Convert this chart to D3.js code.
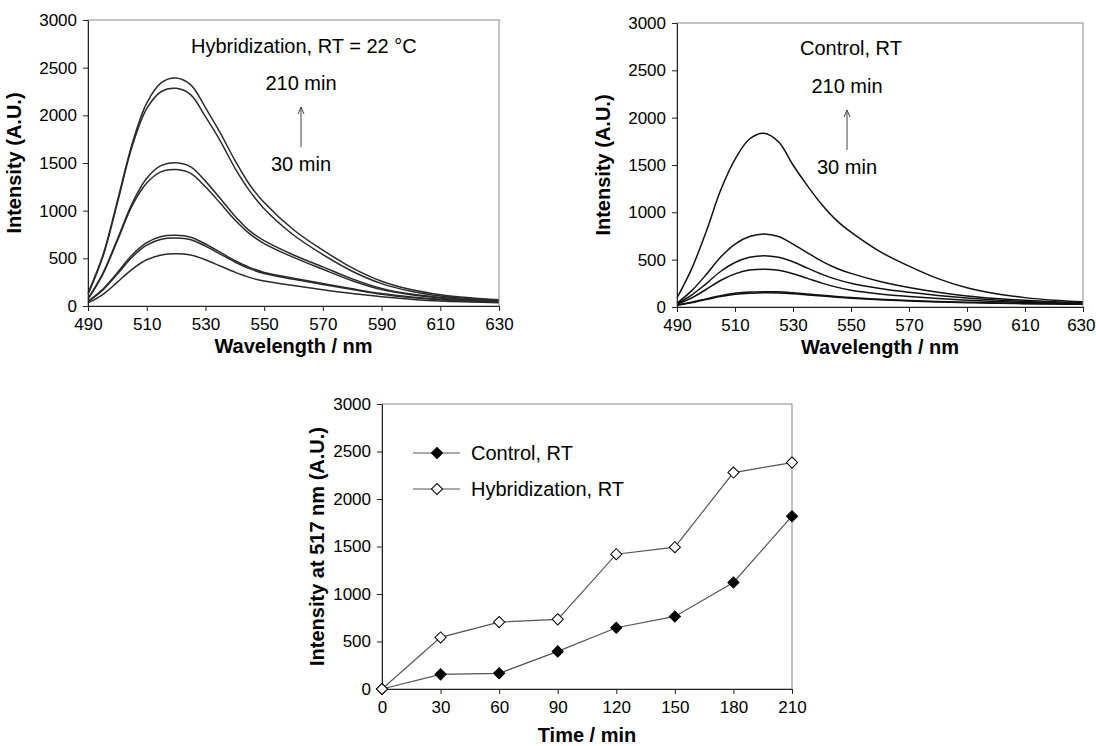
<!DOCTYPE html>
<html>
<head>
<meta charset="utf-8">
<script src="https://cdn.jsdelivr.net/npm/d3@7"></script>
<style>
  body { margin: 0; background: #fff; }
  svg text { font-family: Arial, "Liberation Sans", Helvetica, sans-serif; fill: #000; }
  .tick text { font-size: 17px; }
  .tick line, .domain { stroke: #222; }
</style>
</head>
<body>
<svg id="fig" width="1096" height="746"></svg>
<script>
// wavelengths (nm) of the emission spectra
var wavelengths = [490, 495, 500, 505, 510, 515, 520, 525, 530, 535, 540, 545, 550, 560, 570, 580, 590, 600, 610, 620, 630];

// hybridization spectra, 30 .. 210 min
var hyb30 = [32, 120, 250, 385, 485, 536, 548, 535, 485, 420, 355, 300, 262, 215, 170, 130, 98, 72, 52, 42, 35];
var hyb60 = [45, 165, 335, 512, 638, 700, 712, 695, 628, 545, 462, 392, 340, 280, 225, 172, 122, 88, 65, 52, 42];
var hyb90 = [50, 175, 350, 535, 665, 730, 742, 722, 650, 565, 478, 405, 352, 292, 235, 180, 130, 95, 70, 55, 45];
var hyb120 = [72, 330, 685, 1050, 1290, 1410, 1432, 1392, 1250, 1080, 905, 760, 655, 510, 385, 265, 172, 118, 85, 64, 52];
var hyb150 = [78, 340, 700, 1075, 1340, 1475, 1502, 1460, 1310, 1130, 945, 790, 685, 535, 410, 285, 185, 125, 90, 68, 55];
var hyb180 = [122, 510, 1080, 1670, 2070, 2250, 2283, 2215, 1986, 1735, 1450, 1210, 1020, 745, 540, 365, 235, 155, 105, 78, 60];
var hyb210 = [136, 526, 1100, 1698, 2129, 2344, 2392, 2320, 2081, 1818, 1530, 1275, 1085, 800, 586, 400, 260, 172, 118, 86, 65];

// control spectra
var ctrlA = [18, 45, 78, 110, 134, 146, 150, 148, 140, 128, 116, 104, 93, 76, 63, 54, 46, 40, 35, 31, 28];
var ctrlB = [20, 50, 85, 120, 145, 158, 162, 160, 150, 138, 125, 112, 100, 82, 68, 58, 50, 43, 38, 34, 30];
var ctrlC = [30, 95, 185, 280, 350, 390, 400, 388, 352, 302, 252, 210, 178, 138, 112, 90, 72, 58, 47, 40, 34];
var ctrlD = [35, 125, 245, 375, 470, 525, 542, 525, 478, 410, 345, 292, 250, 195, 155, 122, 95, 74, 58, 46, 38];
var ctrlE = [40, 170, 340, 525, 665, 745, 772, 745, 665, 572, 482, 410, 355, 270, 205, 155, 117, 90, 70, 55, 45];
var ctrlF = [95, 400, 790, 1230, 1560, 1775, 1836, 1745, 1500, 1280, 1080, 915, 790, 585, 432, 300, 203, 140, 99, 72, 55];

// intensity at 517 nm vs time
var times = [0, 30, 60, 90, 120, 150, 180, 210];
var controlRT = [0, 154, 165, 396, 645, 764, 1122, 1819];
var hybRT = [0, 543, 704, 733, 1419, 1493, 2278, 2383];

var intensityTicks = [0, 500, 1000, 1500, 2000, 2500, 3000];
var wavelengthTicks = [490, 510, 530, 550, 570, 590, 610, 630];

var svg = d3.select("#fig");

//FRAME + AXES//
var drawFrame = function (box, xScale, yScale, xTicks, xTitle, yTitle, yTitlePos, xTitleY) {
  var g = svg.append("g");
  g.append("rect")
    .attr("x", box.left).attr("y", box.top)
    .attr("width", box.right - box.left).attr("height", box.bottom - box.top)
    .attr("fill", "none").attr("stroke", "#888").attr("stroke-width", 1);

  var xg = g.append("g")
    .attr("transform", "translate(0," + box.bottom + ")")
    .call(d3.axisBottom(xScale).tickValues(xTicks).tickFormat(d3.format("d"))
      .tickSize(5).tickSizeOuter(0).tickPadding(7));
  g.append("g")
    .attr("transform", "translate(" + box.left + ",0)")
    .call(d3.axisLeft(yScale).tickValues(intensityTicks).tickFormat(d3.format("d"))
      .tickSize(5).tickSizeOuter(0).tickPadding(6));

  // keep the last x label inside the page
  xg.selectAll(".tick text").each(function () {
    var bb = this.getBBox();
    var sx = xScale(d3.select(this.parentNode).datum());
    if (sx + bb.x + bb.width > 1095) {
      d3.select(this).attr("text-anchor", "end").attr("x", 1095 - sx);
    }
  });

  g.append("text")
    .text(xTitle)
    .attr("text-anchor", "middle")
    .attr("font-weight", "bold")
    .attr("font-size", 20)
    .attr("x", (box.left + box.right) / 2)
    .attr("y", xTitleY);

  g.append("g")
    .attr("transform", "translate(" + yTitlePos[0] + "," + yTitlePos[1] + ")")
    .append("text")
    .text(yTitle)
    .attr("text-anchor", "middle")
    .attr("font-weight", "bold")
    .attr("font-size", 20)
    .attr("transform", "rotate(-90)");
};

//SPECTRA PANEL//
var drawSpectra = function (box, spectra, label, labelPos, arrowX, stroke) {
  var x = d3.scaleLinear().domain([490, 630]).range([box.left, box.right]);
  var y = d3.scaleLinear().domain([0, 3000]).range([box.bottom, box.top]);

  var line = d3.line()
    .x(function (d, i) { return x(wavelengths[i]); })
    .y(function (d) { return y(d); })
    .curve(d3.curveCatmullRom.alpha(0.5));

  svg.append("g")
    .selectAll("path")
    .data(spectra)
    .enter()
    .append("path")
    .attr("d", line)
    .attr("fill", "none")
    .attr("stroke", stroke)
    .attr("stroke-width", 1.5);

  drawFrame(box, x, y, wavelengthTicks, "Wavelength / nm", "Intensity (A.U.)",
    [box.left - 67, (box.top + box.bottom) / 2], box.bottom + 47);

  var notes = svg.append("g").attr("font-size", 20);
  notes.append("text").text(label).attr("x", labelPos[0]).attr("y", labelPos[1]);
  notes.append("text").text("210 min").attr("x", arrowX).attr("y", box.top + 70).attr("text-anchor", "middle");
  notes.append("text").text("30 min").attr("x", arrowX).attr("y", box.top + 151).attr("text-anchor", "middle");

  // little arrow 30 -> 210 min
  var a = svg.append("g").attr("stroke", "#444").attr("fill", "none").attr("stroke-width", 1);
  a.append("line").attr("x1", arrowX).attr("x2", arrowX).attr("y1", box.top + 127).attr("y2", box.top + 87);
  a.append("path").attr("d", "M" + (arrowX - 3) + "," + (box.top + 94) + " L" + arrowX + "," + (box.top + 87) + " L" + (arrowX + 3) + "," + (box.top + 94));
};

drawSpectra({ left: 88, right: 499, top: 20, bottom: 306 },
  [hyb30, hyb60, hyb90, hyb120, hyb150, hyb180, hyb210],
  "Hybridization, RT = 22 °C", [191, 53], 301, "#2a2a2a");

drawSpectra({ left: 677, right: 1083, top: 23, bottom: 307 },
  [ctrlA, ctrlB, ctrlC, ctrlD, ctrlE, ctrlF],
  "Control, RT", [800, 55], 847, "#111");

//KINETICS PANEL//
var kin = { left: 382, right: 792, top: 404, bottom: 689 };
var xT = d3.scaleLinear().domain([0, 210]).range([kin.left, kin.right]);
var yT = d3.scaleLinear().domain([0, 3000]).range([kin.bottom, kin.top]);

drawFrame(kin, xT, yT, times, "Time / min", "Intensity at 517 nm (A.U.)",
  [kin.left - 58, (kin.top + kin.bottom) / 2], kin.bottom + 53);

var kLine = d3.line()
  .x(function (d, i) { return xT(times[i]); })
  .y(function (d) { return yT(d); });

var diamond = d3.symbol().type(d3.symbolSquare).size(62);

var series = [
  { name: "Control, RT", values: controlRT, fill: "#000" },
  { name: "Hybridization, RT", values: hybRT, fill: "#fff" }
];

series.forEach(function (s, k) {
  svg.append("path")
    .attr("d", kLine(s.values))
    .attr("fill", "none")
    .attr("stroke", "#555")
    .attr("stroke-width", 1.2);

  svg.append("g")
    .selectAll("path")
    .data(s.values)
    .enter()
    .append("path")
    .attr("d", diamond)
    .attr("transform", function (d, i) {
      return "translate(" + xT(times[i]) + "," + yT(d) + ") rotate(45)";
    })
    .attr("fill", s.fill)
    .attr("stroke", "#000")
    .attr("stroke-width", 1);

  // legend
  var ly = 453 + k * 36;
  var lg = svg.append("g");
  lg.append("line").attr("x1", 413).attr("x2", 460).attr("y1", ly).attr("y2", ly)
    .attr("stroke", "#555").attr("stroke-width", 1.2);
  lg.append("path").attr("d", diamond)
    .attr("transform", "translate(437," + ly + ") rotate(45)")
    .attr("fill", s.fill).attr("stroke", "#000");
  lg.append("text").text(s.name).attr("x", 471).attr("y", ly + 7).attr("font-size", 20);
});
</script>
</body>
</html>
